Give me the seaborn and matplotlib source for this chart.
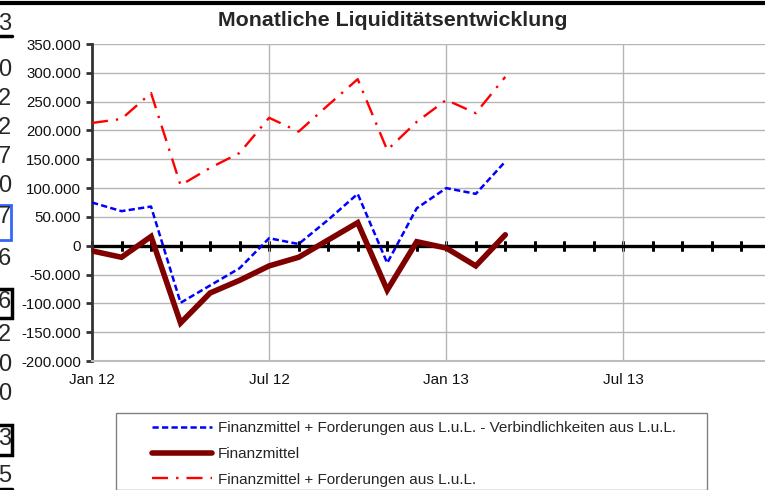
import numpy as np
import pandas as pd
import matplotlib
matplotlib.use("Agg")
import matplotlib.pyplot as plt
import matplotlib.ticker as mticker
from matplotlib.patches import Rectangle
from matplotlib.lines import Line2D
import seaborn as sns

# Daten (in Tausend EUR), Jan 12 - Mar 13
monate = list(range(15))
ff_minus_vb = [75, 60, 68, -99, -69, -39, 13, 3, 45, 90, -30, 65, 100, 90, 146]
finanzmittel = [-9, -20, 16, -134, -82, -60, -35, -20, 10, 40, -77, 7, -4, -35, 19]
ff = [213, 220, 265, 105, 135, 161, 222, 198, 244, 289, 166, 215, 253, 230, 293]

x_ticks = [0, 6, 12, 18]
x_labels = ["Jan 12", "Jul 12", "Jan 13", "Jul 13"]
serien = [
    "Finanzmittel + Forderungen aus L.u.L. - Verbindlichkeiten aus L.u.L.",
    "Finanzmittel",
    "Finanzmittel + Forderungen aus L.u.L.",
]

# Spreadsheet-Reste am linken Rand
rand_ziffern = ["3", "0", "2", "2", "7", "0", "7", "6", "6", "2", "0", "0", "3", "5"]
rand_y = [24, 70, 99, 128, 157, 186, 217, 259, 302, 335, 365, 394, 439, 476]

df = pd.DataFrame({
    "monat": monate,
    "a": np.array(ff_minus_vb) * 1000,
    "b": np.array(finanzmittel) * 1000,
    "c": np.array(ff) * 1000,
})

sns.set_theme(style="white")
plt.rcParams["font.family"] = ["Liberation Sans", "DejaVu Sans"]

W, H = 765, 490
fig = plt.figure(figsize=(W / 100, H / 100), dpi=100)
ax = fig.add_axes([92 / W, 1 - 361 / H, 1 - 92 / W, (361 - 44) / H])

sns.lineplot(data=df, x="monat", y="a", ax=ax, color="#0000ff", linewidth=1.8,
             linestyle=(0, (2.5, 1.3)), zorder=4)
sns.lineplot(data=df, x="monat", y="b", ax=ax, color="#800000", linewidth=4,
             solid_capstyle="round", solid_joinstyle="miter", zorder=3)
sns.lineplot(data=df, x="monat", y="c", ax=ax, color="#ff0000", linewidth=1.7,
             linestyle=(0, (6.8, 3.4, 1, 3.4)), zorder=4)

ymin, ymax = -200000, 350000
ax.set_ylim(ymin, ymax)
ax.set_xlim(0, (W - 91.8) / 29.53)
ax.set_xlabel("")
ax.set_ylabel("")

ax.yaxis.set_major_locator(mticker.MultipleLocator(50000))
ax.yaxis.set_major_formatter(
    mticker.FuncFormatter(lambda v, p: "0" if v == 0 else f"{v:,.0f}".replace(",", ".")))
ax.set_xticks(x_ticks)
ax.set_xticklabels(x_labels)
ax.tick_params(axis="y", left=True, length=4, width=2, color="#333333",
               labelsize=10.8, labelcolor="#111111", pad=4)
ax.tick_params(axis="x", bottom=False, length=0, labelsize=11,
               labelcolor="#111111", pad=9)

ax.grid(True, color="#b5b5b5", linewidth=1)
for s in ["top", "right"]:
    ax.spines[s].set_visible(False)
ax.spines["left"].set_color("#333333")
ax.spines["left"].set_linewidth(2)
ax.spines["bottom"].set_color("#bdbdbd")
ax.spines["bottom"].set_linewidth(1.5)

# Nulllinie mit Monats-Strichen
ax.axhline(0, color="black", linewidth=2.4, zorder=2.5)
null_pos = (0 - ymin) / (ymax - ymin)
sec = ax.secondary_xaxis(null_pos)
sec.set_xticks(list(range(0, 24)))
sec.tick_params(axis="x", direction="inout", length=7, width=2, color="black",
                labelbottom=False, labeltop=False, top=True, bottom=True)
for s in sec.spines.values():
    s.set_visible(False)

fig.text(393 / W, 1 - 20 / H, "Monatliche Liquiditätsentwicklung",
         ha="center", va="center", fontsize=15.4, fontweight="bold")

# Legende
fig.patches.append(Rectangle((116 / W, 0), (707 - 116) / W, 1 - 413 / H,
                             transform=fig.transFigure, fill=False,
                             edgecolor="#808080", linewidth=1))
handles = [
    Line2D([], [], color="#0000ff", lw=1.8, ls=(0, (2.5, 1.3))),
    Line2D([], [], color="#800000", lw=4),
    Line2D([], [], color="#ff0000", lw=1.7, ls=(0, (6.8, 3.4, 1, 3.4))),
]
fig.legend(handles, serien, loc="upper left", bbox_to_anchor=(152 / W, 1 - 421 / H),
           frameon=False, fontsize=11, borderpad=0, borderaxespad=0,
           handlelength=3.9, handletextpad=0.4, labelspacing=0.78)

# Rand
fig.add_artist(Line2D([0, 1], [1 - 3 / H, 1 - 3 / H], color="black", lw=3,
                      transform=fig.transFigure))
for z, y in zip(rand_ziffern, rand_y):
    fig.text(11 / W, 1 - y / H, z, ha="right", va="center", fontsize=17)
fig.add_artist(Rectangle((-5 / W, 1 - 240 / H), 16 / W, 35 / H, fill=False,
                         edgecolor="#3366ff", lw=2, transform=fig.transFigure))
for y0, y1 in [(289, 318), (425, 455)]:
    fig.add_artist(Rectangle((-5 / W, 1 - y1 / H), 17 / W, (y1 - y0) / H, fill=False,
                             edgecolor="black", lw=2.5, transform=fig.transFigure))
for y in [36, 489]:
    fig.add_artist(Line2D([0, 12 / W], [1 - y / H, 1 - y / H], color="black", lw=2.5,
                          transform=fig.transFigure))

fig.savefig("out.png", dpi=100)
